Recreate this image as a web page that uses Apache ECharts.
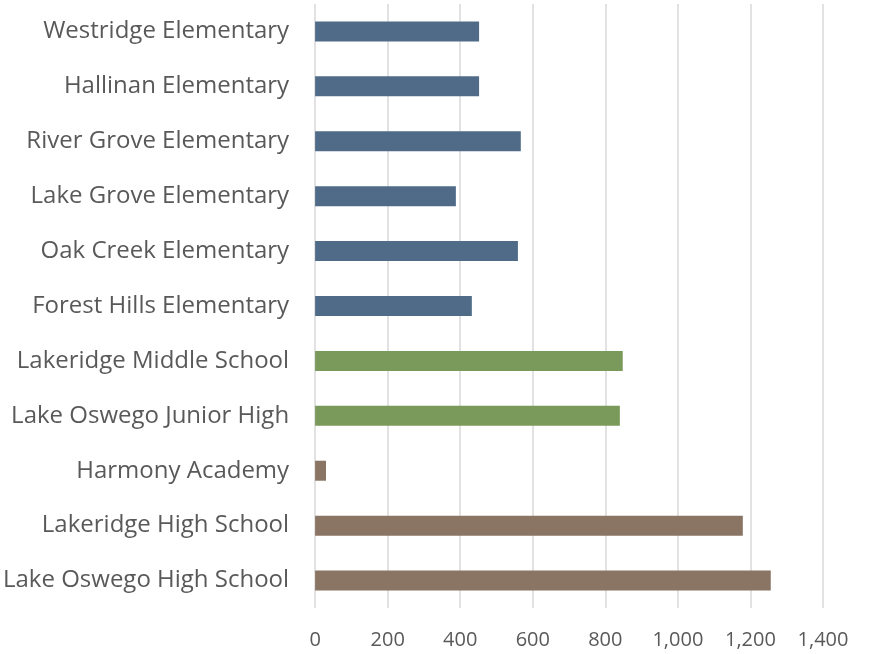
<!DOCTYPE html>
<html>
<head>
<meta charset="utf-8">
<script src="https://cdn.jsdelivr.net/npm/echarts@6/dist/echarts.min.js"></script>
<style>
html,body{margin:0;padding:0;background:#fff;}
#chart{width:870px;height:654px;}
</style>
</head>
<body>
<div id="chart"></div>
<script>
const categories = [
  "Westridge Elementary",
  "Hallinan Elementary",
  "River Grove Elementary",
  "Lake Grove Elementary",
  "Oak Creek Elementary",
  "Forest Hills Elementary",
  "Lakeridge Middle School",
  "Lake Oswego Junior High",
  "Harmony Academy",
  "Lakeridge High School",
  "Lake Oswego High School"
];
const values = [452, 452, 567, 388, 559, 432, 848, 840, 30, 1179, 1256];
const groups = ["elementary","elementary","elementary","elementary","elementary","elementary","middle","middle","high","high","high"];
const xTicks = [0, 200, 400, 600, 800, 1000, 1200, 1400];

const groupColors = { elementary: "#4F6B88", middle: "#7A9A5B", high: "#8A7565" };

const chart = echarts.init(document.getElementById('chart'), null, {renderer: 'canvas'});
const font = '"Open Sans", "Noto Sans", sans-serif';
chart.setOption({
  animation: false,
  grid: { left: 315, right: 47, top: 4, bottom: 46, containLabel: false },
  xAxis: {
    type: 'value',
    min: xTicks[0],
    max: xTicks[xTicks.length - 1],
    interval: xTicks[1] - xTicks[0],
    axisLine: { show: false },
    axisTick: { show: false },
    splitLine: { show: true, lineStyle: { color: '#D9D9D9', width: 1.5 } },
    axisLabel: {
      margin: 22,
      color: '#595959',
      fontFamily: font,
      fontSize: 20,
      formatter: v => v.toLocaleString('en-US')
    }
  },
  yAxis: {
    type: 'category',
    data: categories,
    inverse: true,
    axisLine: { show: false },
    axisTick: { show: false },
    axisLabel: {
      margin: 26,
      color: '#595959',
      fontFamily: font,
      fontSize: 24
    }
  },
  series: [{
    type: 'bar',
    barWidth: 20,
    data: values.map((v, i) => ({ value: v, itemStyle: { color: groupColors[groups[i]] } }))
  }]
});
</script>
</body>
</html>
